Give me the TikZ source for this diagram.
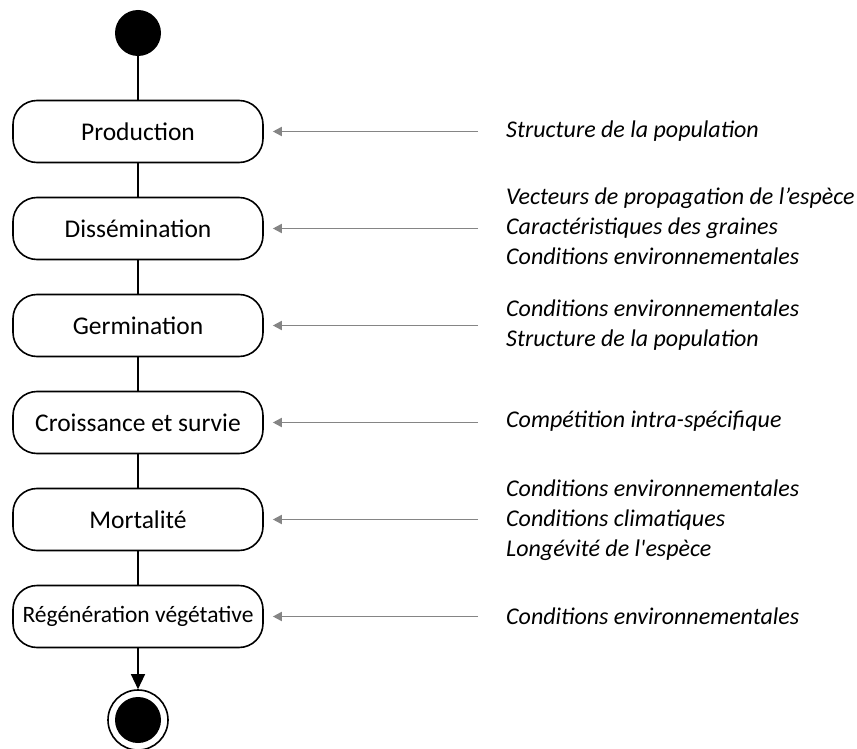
\documentclass[tikz,border=0pt]{standalone}
\usepackage{fontspec}
\setmainfont{Carlito}
\newfontfamily\rawfont{Carlito}
\usetikzlibrary{arrows.meta}
\begin{document}
\begin{tikzpicture}[x=1pt,y=-1pt,
  stepbox/.style={draw=black,line width=1.6pt,rounded corners=24pt,minimum width=250pt,minimum height=62pt,inner sep=0pt,font=\fontsize{25.5}{30}\selectfont},
  factor/.style={anchor=west,align=left,inner sep=0pt,font=\fontsize{24}{30}\selectfont\itshape},
  flow/.style={line width=1.3pt,draw=black},
  infl/.style={line width=1.8pt,draw=black!48,-{Triangle[length=9pt,width=9pt]}}]
\useasboundingbox (0,0) rectangle (857,749);
\node[circle,fill=black,minimum size=46pt,inner sep=0pt] (start) at (138,33) {};
\node[stepbox] (p) at (138,131.5) {Production};
\node[stepbox] (d) at (138,228.5) {Dissémination};
\node[stepbox] (g) at (138,325.5) {Germination};
\node[stepbox] (c) at (138,422.5) {Croissance et survie};
\node[stepbox] (m) at (138,519.5) {Mortalité};
\node[stepbox,font=\fontsize{23.5}{28}\selectfont] (r) at (138,616.5) {Régénération végétative};
\node[circle,draw=black,line width=1.6pt,minimum size=60pt,inner sep=0pt] (end) at (138,720) {};
\node[circle,fill=black,minimum size=46pt,inner sep=0pt] (endin) at (138,720) {};
\draw[flow] (start) -- (p);
\draw[flow] (p) -- (d);
\draw[flow] (d) -- (g);
\draw[flow] (g) -- (c);
\draw[flow] (c) -- (m);
\draw[flow] (m) -- (r);
\draw[flow,-{Triangle[length=15pt,width=14pt]}] (r) -- (end);
\node[factor] (fp) at (506,131.5) {Structure de la population};
\node[factor] (fd) at (506,226) {Vecteurs de propagation de l’espèce\\Caractéristiques des graines\\Conditions environnementales};
\node[factor] (fg) at (506,325) {Conditions environnementales\\Structure de la population};
\node[factor] (fc) at (506,421) {Compétition intra-spécifique};
\node[factor] (fm) at (506,520) {Conditions environnementales\\Conditions climatiques\\{\rawfont\itshape Longévité de l'espèce}};
\node[factor] (fr) at (506,616) {Conditions environnementales};
\foreach \f/\b in {fp/p,fd/d,fg/g,fc/c,fm/m,fr/r}
  \draw[infl] ([xshift=-28pt]\f.west |- \b.east) -- ([xshift=9pt]\b.east);
\end{tikzpicture}
\end{document}
